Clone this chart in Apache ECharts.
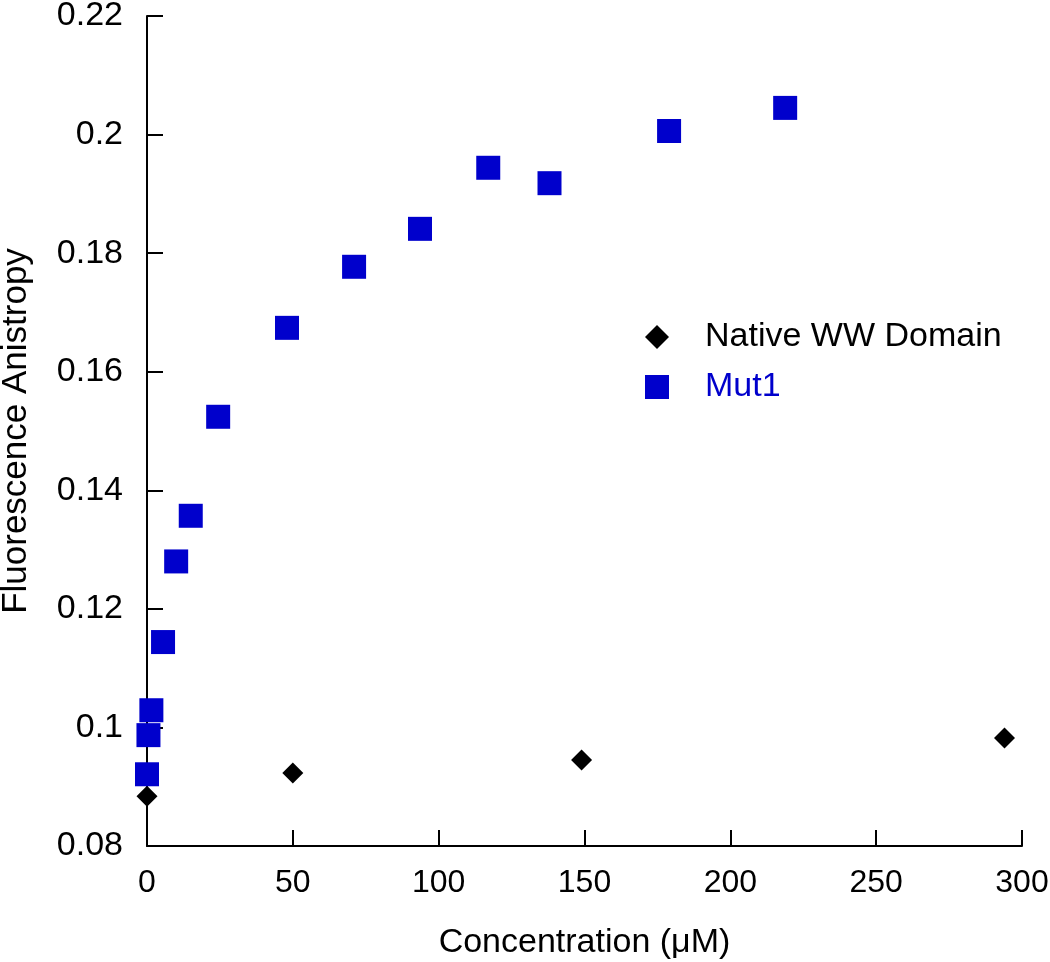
<!DOCTYPE html>
<html><head><meta charset="utf-8">
<script src="https://cdn.jsdelivr.net/npm/echarts@6/dist/echarts.min.js"></script>
<style>html,body{margin:0;padding:0;background:#fff}#c{width:1050px;height:962px}</style>
</head><body><div id="c"></div>
<script>
const nativeX = [0, 50, 149, 294];
const nativeY = [0.0884, 0.0923, 0.0945, 0.0982];
const mutX = [0, 0.5, 1.5, 5.5, 10, 15, 24.4, 48, 71, 93.6, 117, 138, 179, 218.8];
const mutY = [0.0921, 0.0987, 0.1029, 0.1144, 0.128, 0.1357, 0.1524, 0.1674, 0.1777, 0.1841, 0.1944, 0.1918, 0.2006, 0.2045];
const seriesNames = ['Native WW Domain', 'Mut1'];
const xTitle = 'Concentration (\u03BCM)';
const yTitle = 'Fluorescence Anistropy';

const font = '"Liberation Sans", Arial, sans-serif';
const blue = '#0000CC';
const chart = echarts.init(document.getElementById('c'));
chart.setOption({
  animation: false,
  backgroundColor: '#fff',
  grid: { left: 147, right: 28, top: 16, bottom: 116, containLabel: false, outerBoundsMode: 'none' },
  legend: {
    orient: 'vertical', left: 640, top: 315, itemGap: 16, itemWidth: 24, itemHeight: 24,
    textStyle: { fontFamily: font, fontSize: 34, padding: [0, 0, 0, 31] },
    data: [
      { name: seriesNames[0], icon: 'diamond', itemStyle: { color: '#000', opacity: 1 }, textStyle: { color: '#000' } },
      { name: seriesNames[1], icon: 'rect', itemStyle: { color: blue, opacity: 1 }, textStyle: { color: blue } }
    ]
  },
  xAxis: {
    type: 'value', min: 0, max: 300, interval: 50,
    name: xTitle, nameLocation: 'middle', nameGap: 80,
    nameTextStyle: { fontFamily: font, fontSize: 34, color: '#000' },
    axisLine: { show: true, lineStyle: { color: '#000', width: 2 } },
    axisTick: { show: true, inside: true, length: 16, lineStyle: { color: '#000', width: 2 } },
    axisLabel: { fontFamily: font, fontSize: 32, color: '#000', margin: 21 },
    splitLine: { show: false }
  },
  yAxis: {
    type: 'value', min: 0.08, max: 0.22, interval: 0.02,
    name: yTitle, nameLocation: 'middle', nameGap: 113,
    nameTextStyle: { fontFamily: font, fontSize: 35, color: '#000' },
    axisLine: { show: true, lineStyle: { color: '#000', width: 2 } },
    axisTick: { show: true, inside: true, length: 16, lineStyle: { color: '#000', width: 2 } },
    axisLabel: { fontFamily: font, fontSize: 34, color: '#000', margin: 24,
      formatter: v => String(parseFloat(v.toFixed(2))) },
    splitLine: { show: false }
  },
  series: [
    { name: seriesNames[0], type: 'scatter', symbol: 'diamond', symbolSize: 21,
      itemStyle: { color: '#000', opacity: 1 },
      data: nativeX.map((x, i) => [x, nativeY[i]]) },
    { name: seriesNames[1], type: 'scatter', symbol: 'rect', symbolSize: 24,
      itemStyle: { color: blue, opacity: 1 },
      data: mutX.map((x, i) => [x, mutY[i]]) }
  ]
});
</script></body></html>
